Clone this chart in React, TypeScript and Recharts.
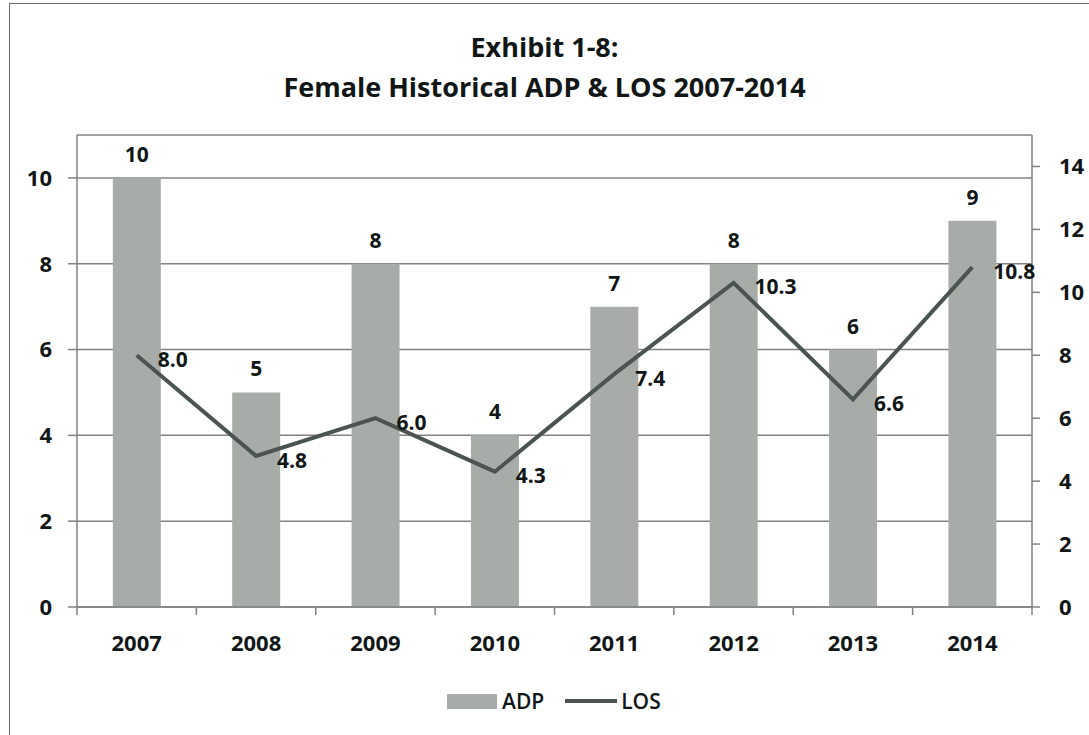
import React from 'react';
import {
  ComposedChart,
  Bar,
  Line,
  XAxis,
  YAxis,
  CartesianGrid,
  LabelList,
} from 'recharts';

const years = ['2007', '2008', '2009', '2010', '2011', '2012', '2013', '2014'];
const adpValues = [10, 5, 8, 4, 7, 8, 6, 9];
const losValues = [8.0, 4.8, 6.0, 4.3, 7.4, 10.3, 6.6, 10.8];
const leftTicks = [0, 2, 4, 6, 8, 10];
const rightTicks = [0, 2, 4, 6, 8, 10, 12, 14];
const titleLines = ['Exhibit 1-8:', 'Female Historical ADP & LOS 2007-2014'];

const data = years.map((year, i) => ({ year, ADP: adpValues[i], LOS: losValues[i] }));

const FONT = '"Open Sans", "DejaVu Sans", sans-serif';
const TEXT = '#111616';
const AXIS = '#828282';
const BAR = '#a8aca9';
const LINE = '#4c5451';

const XTick = (props: any) => {
  const { x, y, payload, index, width } = props;
  const half = width / (2 * years.length);
  const last = index === years.length - 1;
  return (
    <g>
      <line x1={x - half} y1={y} x2={x - half} y2={y + 8} stroke={AXIS} strokeWidth={1.5} />
      {last && <line x1={x + half} y1={y} x2={x + half} y2={y + 8} stroke={AXIS} strokeWidth={1.5} />}
      <text
        x={x}
        y={y + 44}
        textAnchor="middle"
        fill={TEXT}
        fontFamily={FONT}
        fontSize={22}
        fontWeight={700}
      >
        {payload.value}
      </text>
    </g>
  );
};

const RightTick = (props: any) => {
  const { x, y, payload } = props;
  return (
    <text
      x={x + 1}
      y={y}
      dy="0.36em"
      textAnchor="start"
      fill={TEXT}
      fontFamily={FONT}
      fontSize={22}
      fontWeight={700}
    >
      {payload.value}
    </text>
  );
};

const LosLabel = (props: any) => {
  const { x, y, value } = props;
  return (
    <text
      x={x + 21}
      y={y + 4}
      dy="0.36em"
      textAnchor="start"
      fill={TEXT}
      fontFamily={FONT}
      fontSize={21}
      fontWeight={700}
    >
      {Number(value).toFixed(1)}
    </text>
  );
};

const tickStyle = { fill: TEXT, fontFamily: FONT, fontSize: 22, fontWeight: 700 };

export default function App() {
  return (
    <div
      style={{
        position: 'absolute',
        left: 0,
        top: 0,
        width: 1089,
        height: 735,
        background: '#fff',
        overflow: 'hidden',
      }}
    >
      <div
        style={{
          position: 'absolute',
          left: 9,
          top: 3,
          width: 1100,
          height: 800,
          borderLeft: '1.5px solid #6a6a6a',
          borderTop: '1.5px solid #6a6a6a',
        }}
      />
      {titleLines.map((t, i) => (
        <div
          key={t}
          style={{
            position: 'absolute',
            left: 0,
            width: 1089,
            top: 29 + i * 40,
            lineHeight: '36px',
            textAlign: 'center',
            fontFamily: FONT,
            fontWeight: 700,
            fontSize: 27,
            color: TEXT,
          }}
        >
          {t}
        </div>
      ))}
      <div style={{ position: 'absolute', left: 0, top: 0 }}>
        <ComposedChart
          width={1089}
          height={735}
          data={data}
          margin={{ top: 135, right: 0, bottom: 98, left: 17 }}
          barCategoryGap="30%"
        >
          <CartesianGrid
            yAxisId="left"
            vertical={false}
            horizontal
            stroke={AXIS}
            strokeWidth={1.5}
          />
          <XAxis
            dataKey="year"
            height={30}
            tickLine={false}
            tickSize={0}
            tickMargin={0}
            axisLine={{ stroke: AXIS, strokeWidth: 1.5 }}
            tick={<XTick />}
            interval={0}
          />
          <YAxis
            yAxisId="left"
            orientation="left"
            width={60}
            domain={[0, 11]}
            ticks={leftTicks}
            allowDataOverflow
            tickSize={9}
            tickMargin={16}
            tickLine={{ stroke: AXIS, strokeWidth: 1.5 }}
            axisLine={{ stroke: AXIS, strokeWidth: 1.5 }}
            tick={tickStyle}
          />
          <YAxis
            yAxisId="right"
            orientation="right"
            width={57}
            domain={[0, 15]}
            ticks={rightTicks}
            allowDataOverflow
            tickSize={8}
            tickMargin={18}
            tickLine={{ stroke: AXIS, strokeWidth: 1.5 }}
            axisLine={{ stroke: AXIS, strokeWidth: 1.5 }}
            tick={<RightTick />}
          />
          <Bar yAxisId="left" dataKey="ADP" fill={BAR} isAnimationActive={false}>
            <LabelList
              dataKey="ADP"
              position="top"
              offset={16}
              fill={TEXT}
              fontFamily={FONT}
              fontSize={21}
              fontWeight={700}
            />
          </Bar>
          <Line
            yAxisId="right"
            type="linear"
            dataKey="LOS"
            stroke={LINE}
            strokeWidth={4}
            dot={false}
            activeDot={false}
            isAnimationActive={false}
          >
            <LabelList dataKey="LOS" content={<LosLabel />} />
          </Line>
        </ComposedChart>
      </div>
      <div
        style={{
          position: 'absolute',
          top: 687,
          left: 447,
          height: 28,
          display: 'flex',
          alignItems: 'center',
          fontFamily: FONT,
          fontSize: 21,
          fontWeight: 600,
          color: TEXT,
          whiteSpace: 'nowrap',
        }}
      >
        <span style={{ display: 'inline-block', width: 50, height: 15, background: BAR }} />
        <span style={{ marginLeft: 5 }}>ADP</span>
        <span
          style={{ display: 'inline-block', width: 52, height: 4, background: LINE, marginLeft: 21 }}
        />
        <span style={{ marginLeft: 4 }}>LOS</span>
      </div>
    </div>
  );
}
